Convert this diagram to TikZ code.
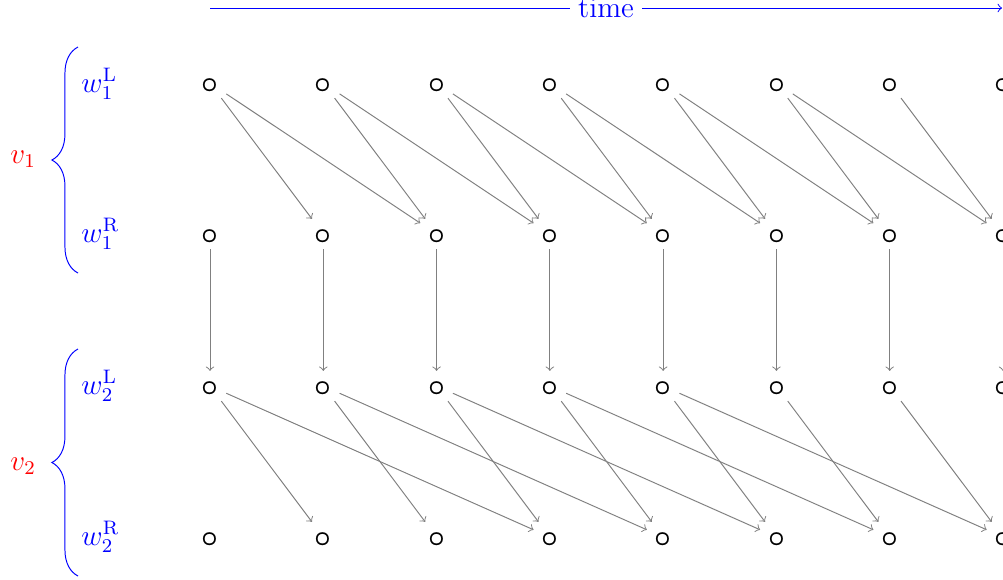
\documentclass[tikz,border=0pt]{standalone}
\usepackage{amsmath}
\usetikzlibrary{decorations.pathreplacing}
\begin{document}
\begin{tikzpicture}[x=0.41pt,y=-0.41pt,
  state/.style={inner sep=0pt, minimum width=13pt, minimum height=12pt,
    text height=7.5pt, text depth=0pt},
  flow/.style={->, gray},
  lbl/.style={blue, anchor=base west, inner sep=0pt},
  grp/.style={red, anchor=base west, inner sep=0pt},
  bracepath/.style={blue, decorate, decoration={brace, amplitude=10.7pt}}]
\useasboundingbox (0,0) rectangle (1003,579);

% time axis
\coordinate (t0) at (210,8);
\coordinate (t1) at (1002,8);
\draw[->, blue] (t0) -- node[fill=white, inner ysep=1pt] {\large time} (t1);

% four rows of states over eight time steps
\foreach \i in {0,...,7} {
  \pgfmathsetmacro\xx{210+113.2857*\i}
  \node[state] (a\i) at (\xx,83)  {\large$\boldsymbol{\circ}$};
  \node[state] (b\i) at (\xx,234) {\large$\boldsymbol{\circ}$};
  \node[state] (c\i) at (\xx,386) {\large$\boldsymbol{\circ}$};
  \node[state] (d\i) at (\xx,537) {\large$\boldsymbol{\circ}$};
}

% dependencies
\foreach \i in {0,...,6} {
  \pgfmathtruncatemacro\j{\i+1}
  \draw[flow] (a\i) -- (b\j);
  \draw[flow] (c\i) -- (d\j);
}
\foreach \i in {0,...,5} {
  \pgfmathtruncatemacro\k{\i+2}
  \draw[flow] (a\i) -- (b\k);
}
\foreach \i in {0,...,4} {
  \pgfmathtruncatemacro\k{\i+3}
  \draw[flow] (c\i) -- (d\k);
}
\foreach \i in {0,...,7}
  \draw[flow] (b\i) -- (c\i);

% row labels
\node[lbl] (lw1l) at (81,92)  {\large $w_1^{\mathrm{L}}$};
\node[lbl] (lw1r) at (81,242) {\large $w_1^{\mathrm{R}}$};
\node[lbl] (lw2l) at (81,394) {\large $w_2^{\mathrm{L}}$};
\node[lbl] (lw2r) at (81,545) {\large $w_2^{\mathrm{R}}$};

% groups
\coordinate (g1a) at (78,273);
\coordinate (g1b) at (78,47);
\coordinate (g2a) at (78,576);
\coordinate (g2b) at (78,349);
\draw[bracepath] (g1a) -- (g1b);
\draw[bracepath] (g2a) -- (g2b);
\node[grp] (v1) at (10,163) {\large $v_1$};
\node[grp] (v2) at (10,470) {\large $v_2$};
\end{tikzpicture}
\end{document}
